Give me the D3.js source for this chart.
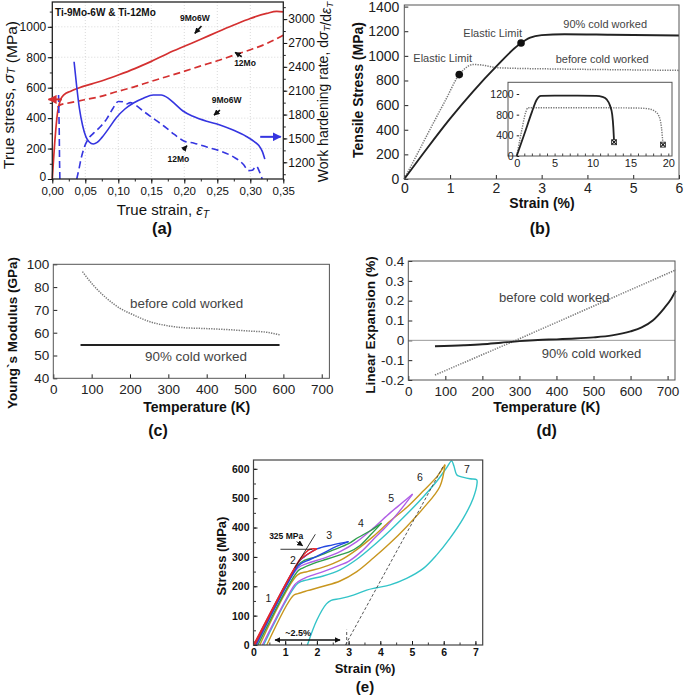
<!DOCTYPE html>
<html>
<head>
<meta charset="utf-8">
<script src="https://cdn.jsdelivr.net/npm/d3@7"></script>
<style>
  body { margin: 0; background: #fff; }
  svg { display: block; }
</style>
</head>
<body>
<script>
// ---------- (a) Ti-9Mo-6W & Ti-12Mo : true stress + work hardening rate ----------
const aStress9Mo6W = [[0,0],[0.004,256],[0.008,440],[0.012,515],[0.018,555],[0.027,575],[0.04,598],[0.06,625],[0.08,652],[0.1,683],[0.125,725],[0.15,773],[0.175,825],[0.2,872],[0.225,918],[0.25,966],[0.275,1012],[0.3,1055],[0.325,1088],[0.34,1101],[0.35,1098]];
const aStress12Mo = [[0.008,470],[0.012,487],[0.022,497],[0.047,519],[0.072,541],[0.097,573],[0.123,604],[0.148,639],[0.173,672],[0.198,705],[0.224,742],[0.249,775],[0.274,812],[0.299,848],[0.325,890],[0.35,945]];
const aHard9Mo6W = [[0.033,2464],[0.037,2150],[0.041,1880],[0.046,1660],[0.051,1520],[0.056,1455],[0.062,1430],[0.068,1450],[0.075,1510],[0.085,1620],[0.097,1760],[0.11,1870],[0.123,1945],[0.138,2005],[0.153,2045],[0.165,2045],[0.175,2010],[0.185,1940],[0.198,1845],[0.214,1775],[0.234,1715],[0.254,1670],[0.274,1605],[0.294,1525],[0.306,1460],[0.313,1410],[0.318,1340],[0.322,1240]];
const aHard12MoEarly = [[0.0095,2045],[0.0105,1600],[0.011,1200],[0.0115,990]];
const aHard12Mo = [[0.037,990],[0.04,1100],[0.044,1260],[0.049,1400],[0.055,1500],[0.063,1570],[0.072,1640],[0.082,1740],[0.092,1880],[0.1,1965],[0.107,1960],[0.113,1935],[0.118,1950],[0.125,1925],[0.14,1830],[0.155,1740],[0.17,1650],[0.185,1550],[0.2,1465],[0.215,1440],[0.235,1390],[0.255,1340],[0.275,1265],[0.29,1170],[0.297,1095],[0.303,1100],[0.309,1150],[0.314,1080],[0.318,990]];
const aStrainTicks = [0,0.05,0.1,0.15,0.2,0.25,0.3,0.35];
const aStressTicks = [0,200,400,600,800,1000];
const aHardTicks = [1200,1500,1800,2100,2400,2700,3000];
const aNotes = [
  { text: "9Mo6W", x: 0.216, y: 1055, from: [0.226,1005], to: [0.216,957] },
  { text: "12Mo", x: 0.292, y: 760, from: [0.287,803], to: [0.277,832] },
  { text: "9Mo6W", x: 0.264, y: 519, from: [0.254,453], to: [0.245,420] },
  { text: "12Mo", x: 0.191, y: 129, from: [0.198,190], to: [0.204,219] }
];
const aStressArrowLevel = 523;
const aHardArrowLevel = 1520;

// ---------- (b) tensile stress-strain ----------
const bCold = [[0,0],[0.5,250],[1,490],[1.5,710],[2,910],[2.5,1090],[2.75,1148],[3,1168],[3.5,1176],[4.5,1172],[6,1165]];
const bBefore = [[0,0],[0.3,215],[0.6,430],[0.9,640],[1.2,848],[1.35,905],[1.5,930],[1.7,925],[2,905],[2.5,898],[3,895],[4,890],[5,886],[6,882]];
const bElasticLimits = [[1.2,848],[2.55,1105]];
const bStrainTicks = [0,1,2,3,4,5,6];
const bStressTicks = [0,200,400,600,800,1000,1200,1400];
const bInsetCold = [[0,0],[1,420],[2,850],[2.6,1080],[3.2,1165],[5,1170],[8,1170],[10.5,1165],[11.3,1145],[11.9,1090],[12.3,980],[12.6,800],[12.75,550],[12.85,267]];
const bInsetBefore = [[0,0],[0.6,450],[1.2,850],[1.5,935],[3,935],[8,935],[13,932],[16,928],[17.3,915],[18.2,870],[18.8,760],[19.1,550],[19.3,220]];
const bInsetFracture = [[12.85,267],[19.3,220]];
const bInsetStrainTicks = [0,5,10,15,20];
const bInsetStressTicks = [0,400,800,1200];

// ---------- (c) Young's modulus vs temperature ----------
const cBefore = [[76,86.8],[104,80.9],[139,75.1],[174,70.7],[209,67.8],[252,64.8],[296,63.1],[339,62.2],[383,61.9],[426,61.6],[470,61.2],[513,60.7],[557,60.2],[591,59.0]];
const cCold = [[71,54.6],[590,54.6]];
const cTempTicks = [0,100,200,300,400,500,600,700];
const cModTicks = [40,50,60,70,80,90];
const cModTickText = ["40","50","60","70","80","100"];

// ---------- (d) linear expansion vs temperature ----------
const dBefore = [[72,-0.175],[290,0],[722,0.355]];
const dCold = [[72,-0.03],[150,-0.025],[200,-0.02],[250,-0.012],[300,-0.004],[350,0.002],[400,0.005],[450,0.009],[500,0.015],[550,0.025],[600,0.045],[630,0.065],[660,0.1],[690,0.16],[710,0.21],[722,0.25]];
const dTempTicks = [0,100,200,300,400,500,600,700];
const dExpTicks = [-0.2,-0.1,0,0.1,0.2,0.3,0.4];

// ---------- (e) cyclic loading ----------
const eCycles = [
  { color: "#33c4c8",
    load: [[0.32,0],[1.4,210],[1.7,222],[2.2,235],[2.73,256],[3.26,292],[3.78,338],[4.31,390],[4.83,445],[5.36,505],[5.8,560],[6.1,605],[6.25,627],[6.32,610],[6.41,580],[6.51,574],[6.83,566],[7.04,563],[7.05,549],[6.93,500],[6.62,432],[6.2,364],[5.78,307],[5.36,261],[4.83,227],[4.31,205],[3.89,195],[3.57,187],[3.15,170],[2.73,158],[2.45,152],[2.3,140],[2.0,85],[1.7,0]],
    unload: null },
  { color: "#c8961e",
    load: [[0.2,0],[1.38,238],[1.7,250],[2.2,265],[2.73,288],[3.26,325],[3.78,370],[4.31,422],[4.83,468],[5.36,525],[5.8,575],[6.04,614]],
    unload: [[6.04,614],[5.88,540],[5.36,466],[4.83,403],[4.31,347],[3.78,296],[3.26,250],[2.73,218],[2.2,200],[1.7,185],[1.4,175],[1.25,168],[0.42,0]] },
  { color: "#b05fe6",
    load: [[0.1,0],[1.4,262],[1.7,278],[2.2,295],[2.73,318],[3.26,352],[3.78,398],[4.31,450],[4.7,485],[5.02,514]],
    unload: [[5.02,514],[4.6,455],[4.2,405],[3.8,362],[3.4,318],[3.0,285],[2.73,272],[2.2,250],[1.7,232],[1.4,215],[1.3,205],[0.28,0]] },
  { color: "#2f9e4c",
    load: [[0.06,0],[1.4,272],[1.6,288],[2.0,301],[2.5,323],[3.0,345],[3.3,366],[3.7,390],[4.04,415]],
    unload: [[4.04,415],[3.7,376],[3.35,338],[3.0,316],[2.73,307],[2.3,292],[1.9,278],[1.55,262],[1.4,252],[0.14,0]] },
  { color: "#2448e0",
    load: [[0.02,0],[1.43,283],[1.6,300],[2.0,327],[2.5,341],[3.0,352]],
    unload: [[3.0,352],[2.6,335],[2.2,313],[1.8,292],[1.5,277],[1.4,268],[0.08,0]] },
  { color: "#e8262a",
    load: [[0,0],[1.45,290],[1.62,312],[1.78,326],[2.0,327]],
    unload: [[2.0,327],[1.58,300],[1.47,290],[0.04,0]] }
];
const eTangent = [[1.3,262],[1.95,377]];
const e325Line = [[0.85,326],[1.85,326]];
const eUnloadRef = [[2.9,0],[6.0,612]];
const eRefMark = [[2.94,0],[2.94,52]];
const eSpan = [0.68, 2.73];
const eSpanLevel = 17;
const eCycleLabels = [["1",0.47,159],["2",1.24,290],["3",2.39,375],["4",3.39,415],["5",4.34,500],["6",5.25,572],["7",6.73,599]];
const eStrainTicks = [0,1,2,3,4,5,6,7];
const eStressTicks = [0,100,200,300,400,500,600];

// ================== drawing ==================
const FONT = '"Liberation Sans", Arial, Helvetica, sans-serif';
const plain = d => String(d);
const svg = d3.select("body").append("svg")
  .attr("width", 685).attr("height", 696)
  .style("font-family", FONT);

const defs = svg.append("defs");
function arrowMarker(id, color, size) {
  defs.append("marker").attr("id", id)
    .attr("viewBox", "0 0 10 10").attr("refX", 9).attr("refY", 5)
    .attr("markerWidth", size).attr("markerHeight", size)
    .attr("markerUnits", "userSpaceOnUse").attr("orient", "auto-start-reverse")
    .append("path").attr("d", "M0,0 L10,5 L0,10 Z").attr("fill", color);
}
arrowMarker("ahBlack", "#111", 6);
arrowMarker("ahRed", "#d43030", 9);
arrowMarker("ahBlue", "#3535e0", 9);

function styleAxis(g, size, weight, color) {
  g.attr("font-family", FONT).attr("font-size", size).attr("font-weight", weight);
  g.select(".domain").remove();
  g.selectAll(".tick line").attr("stroke", color);
  g.selectAll(".tick text").attr("fill", color);
  return g;
}

function frame(x0, y0, x1, y1, color, sw, fill) {
  svg.append("rect").attr("x", x0).attr("y", y0)
    .attr("width", x1 - x0).attr("height", y1 - y0)
    .attr("fill", fill || "none").attr("stroke", color).attr("stroke-width", sw);
}

function plot(pts, xs, ys, style, curve) {
  return svg.append("path").datum(pts)
    .attr("d", d3.line().x(d => xs(d[0])).y(d => ys(d[1])).curve(curve || d3.curveMonotoneX))
    .attr("fill", "none")
    .attr("stroke", style.color)
    .attr("stroke-width", style.width)
    .attr("stroke-dasharray", style.dash || null)
    .attr("stroke-linejoin", "round");
}

function label(x, y, txt, size, weight, anchor, color) {
  return svg.append("text").attr("x", x).attr("y", y)
    .attr("font-size", size).attr("font-weight", weight || "normal")
    .attr("text-anchor", anchor || "middle").attr("fill", color || "#111")
    .text(txt);
}

function vlabel(x, y, size, weight, color) {
  return svg.append("text")
    .attr("transform", `translate(${x},${y}) rotate(-90)`)
    .attr("text-anchor", "middle").attr("dominant-baseline", "central")
    .attr("font-size", size).attr("font-weight", weight || "normal")
    .attr("fill", color || "#111");
}

function sub(t, s, italic) {
  t.append("tspan").attr("font-style", italic ? "italic" : null).text(s[0]);
  t.append("tspan").attr("font-style", "italic").attr("font-size", "70%").attr("dy", "0.3em").text(s[1]);
  t.append("tspan").attr("dy", "-0.3em").text("");
}

// ---------- panel (a) ----------
{
  const x = d3.scaleLinear().domain([0, 0.35]).range([52.3, 283.3]);
  const yL = d3.scaleLinear().domain([0, 1163]).range([179, 2]);
  const yR = d3.scaleLinear().domain([990, 3215]).range([179, 2]);
  const red = "#d43030", blue = "#3535e0";

  const grid = svg.append("g").attr("stroke", "#cfcfcf").attr("stroke-width", 0.8).attr("stroke-dasharray", "1,2");
  aStrainTicks.slice(1, -1).forEach(t => grid.append("line").attr("x1", x(t)).attr("x2", x(t)).attr("y1", 2).attr("y2", 179));
  aStressTicks.slice(1).forEach(t => grid.append("line").attr("x1", 52.3).attr("x2", 283.3).attr("y1", yL(t)).attr("y2", yL(t)));

  styleAxis(svg.append("g").attr("transform", "translate(0,179)")
    .call(d3.axisBottom(x).tickValues(d3.range(0, 0.351, 0.025)).tickSize(2.5).tickFormat("")), 0, "normal", "#222");
  styleAxis(svg.append("g").attr("transform", "translate(0,179)")
    .call(d3.axisBottom(x).tickValues(aStrainTicks).tickSize(4.5).tickPadding(3).tickFormat(d => d.toFixed(2).replace(".", ","))), 11.5, "normal", "#111");
  styleAxis(svg.append("g").attr("transform", "translate(52.3,0)")
    .call(d3.axisLeft(yL).tickValues(d3.range(0, 1101, 100)).tickSize(2.5).tickFormat("")), 0, "normal", "#222");
  styleAxis(svg.append("g").attr("transform", "translate(52.3,0)")
    .call(d3.axisLeft(yL).tickValues(aStressTicks).tickSize(4.5).tickPadding(1.5).tickFormat(plain)), 12, "normal", "#111")
    .selectAll(".tick text").attr("dy", d => d === 0 ? "0.1em" : "0.32em");
  styleAxis(svg.append("g").attr("transform", "translate(283.3,0)")
    .call(d3.axisRight(yR).tickValues(d3.range(1050, 3201, 150)).tickSize(2.5).tickFormat("")), 0, "normal", "#222");
  styleAxis(svg.append("g").attr("transform", "translate(283.3,0)")
    .call(d3.axisRight(yR).tickValues(aHardTicks).tickSize(4).tickPadding(1).tickFormat(plain)), 12, "normal", "#111");

  plot(aStress9Mo6W, x, yL, { color: red, width: 1.7 });
  plot(aStress12Mo, x, yL, { color: red, width: 1.7, dash: "7,4" });
  plot(aHard9Mo6W, x, yR, { color: blue, width: 1.6 });
  plot(aHard12MoEarly, x, yR, { color: blue, width: 1.6, dash: "7,4" }, d3.curveLinear);
  plot(aHard12Mo, x, yR, { color: blue, width: 1.6, dash: "7,4" });

  frame(52.3, 2, 283.3, 179, "#222", 1.3);

  // axis-direction arrows
  svg.append("line").attr("x1", x(0.0145)).attr("x2", 48.5)
    .attr("y1", yL(aStressArrowLevel)).attr("y2", yL(aStressArrowLevel))
    .attr("stroke", red).attr("stroke-width", 2).attr("marker-end", "url(#ahRed)");
  svg.append("line").attr("x1", x(0.315)).attr("x2", x(0.346))
    .attr("y1", yR(aHardArrowLevel)).attr("y2", yR(aHardArrowLevel))
    .attr("stroke", blue).attr("stroke-width", 2).attr("marker-end", "url(#ahBlue)");

  label(55, 16, "Ti-9Mo-6W & Ti-12Mo", 10, "bold", "start");
  aNotes.forEach(n => {
    label(x(n.x), yL(n.y) + 3, n.text, 8.5, "bold");
    svg.append("line").attr("x1", x(n.from[0])).attr("y1", yL(n.from[1]))
      .attr("x2", x(n.to[0])).attr("y2", yL(n.to[1]))
      .attr("stroke", "#111").attr("stroke-width", 1.6).attr("marker-end", "url(#ahBlack)");
  });

  const tl = vlabel(8, 95, 15.5);
  tl.append("tspan").text("True stress, ");
  sub(tl, ["σ", "T"], true);
  tl.append("tspan").text(" (MPa)");

  const tr = vlabel(323, 92, 14);
  tr.append("tspan").text("Work hardening rate, d");
  sub(tr, ["σ", "T"], true);
  tr.append("tspan").text("/d");
  sub(tr, ["ε", "T"], true);

  const tx = label(163, 215, "", 15);
  tx.append("tspan").text("True strain, ");
  sub(tx, ["ε", "T"], true);
  label(162, 234, "(a)", 16.5, "bold");
}

// ---------- panel (b) ----------
{
  const x = d3.scaleLinear().domain([0, 6]).range([404.3, 679]);
  const y = d3.scaleLinear().domain([0, 1413]).range([179, 5]);

  styleAxis(svg.append("g").attr("transform", "translate(0,179)")
    .call(d3.axisBottom(x).tickValues(bStrainTicks).tickSize(-4).tickPadding(4).tickFormat(plain)), 14, "normal", "#222");
  styleAxis(svg.append("g").attr("transform", "translate(404.3,0)")
    .call(d3.axisLeft(y).tickValues(bStressTicks).tickSize(-4).tickPadding(5).tickFormat(plain)), 14, "normal", "#222");

  plot(bBefore, x, y, { color: "#777", width: 1.5, dash: "1.3,1.2" });
  plot(bCold, x, y, { color: "#222", width: 1.9 });
  svg.append("g").selectAll("circle").data(bElasticLimits).join("circle")
    .attr("cx", d => x(d[0])).attr("cy", d => y(d[1])).attr("r", 3.8).attr("fill", "#111");
  frame(404.3, 5, 679, 179, "#555", 1);

  label(463.3, 37, "Elastic Limit", 11, "normal", "start", "#444");
  label(413.3, 62, "Elastic Limit", 11, "normal", "start", "#444");
  label(563.3, 28, "90% cold worked", 11, "normal", "start", "#444");
  label(555.7, 63, "before cold worked", 11, "normal", "start", "#444");

  // inset
  const ix = d3.scaleLinear().domain([0, 20]).range([516.7, 668.3]);
  const iy = d3.scaleLinear().domain([0, 1200]).range([156, 94]);
  frame(508, 82.3, 672, 156, "#555", 1, "#fff");
  styleAxis(svg.append("g").attr("transform", "translate(0,156)")
    .call(d3.axisBottom(ix).tickValues(d3.range(0, 20.1, 1)).tickSize(-2.5).tickFormat("")), 0, "normal", "#444");
  styleAxis(svg.append("g").attr("transform", "translate(0,156)")
    .call(d3.axisBottom(ix).tickValues(bInsetStrainTicks).tickSize(0).tickPadding(3).tickFormat(plain)), 11, "normal", "#222");
  styleAxis(svg.append("g").attr("transform", `translate(${ix(0)},0)`)
    .call(d3.axisLeft(iy).tickValues(bInsetStressTicks).tickSize(-2.5).tickPadding(3).tickFormat(plain)), 10.5, "normal", "#222");
  plot(bInsetBefore, ix, iy, { color: "#777", width: 1.4, dash: "1.3,1.2" });
  plot(bInsetCold, ix, iy, { color: "#222", width: 1.8 });
  const fr = svg.append("g").selectAll("g").data(bInsetFracture).join("g")
    .attr("transform", d => `translate(${ix(d[0])},${iy(d[1])})`);
  fr.append("rect").attr("x", -2.5).attr("y", -2.5).attr("width", 5).attr("height", 5)
    .attr("fill", "#fff").attr("stroke", "#222").attr("stroke-width", 0.8);
  fr.append("path").attr("d", "M-2,-2L2,2M-2,2L2,-2").attr("stroke", "#111").attr("stroke-width", 1.1);

  vlabel(358.3, 90, 14, "bold").text("Tensile Stress (MPa)");
  label(542, 208, "Strain (%)", 14, "bold");
  label(540, 234, "(b)", 16, "bold");
}

// ---------- panel (c) ----------
{
  const x = d3.scaleLinear().domain([0, 720]).range([53.3, 329.4]);
  const y = d3.scaleLinear().domain([40, 90]).range([378.3, 264.3]);
  styleAxis(svg.append("g").attr("transform", "translate(0,378.3)")
    .call(d3.axisBottom(x).tickValues(cTempTicks).tickSize(-4).tickPadding(6).tickFormat(plain)), 13.5, "normal", "#222");
  styleAxis(svg.append("g").attr("transform", "translate(53.3,0)")
    .call(d3.axisLeft(y).tickValues(cModTicks).tickSize(-4).tickPadding(4)
      .tickFormat((d, i) => cModTickText[i])), 13.5, "normal", "#222");
  plot(cBefore, x, y, { color: "#777", width: 1.5, dash: "1.3,1.2" });
  plot(cCold, x, y, { color: "#222", width: 1.9 }, d3.curveLinear);
  frame(53.3, 264.3, 329.4, 378.3, "#555", 1);
  label(130, 308, "before cold worked", 13.4, "normal", "start", "#444");
  label(145, 361, "90% cold worked", 13.4, "normal", "start", "#444");
  vlabel(12, 333, 13.5, "bold").text("Young`s Modulus (GPa)");
  label(196.7, 411.5, "Temperature (K)", 14, "bold");
  label(158, 435.5, "(c)", 16, "bold");
}

// ---------- panel (d) ----------
{
  const x = d3.scaleLinear().domain([0, 720]).range([408.3, 675]);
  const y = d3.scaleLinear().domain([-0.2, 0.4]).range([380, 261]);
  styleAxis(svg.append("g").attr("transform", "translate(0,380)")
    .call(d3.axisBottom(x).tickValues(dTempTicks).tickSize(-4).tickPadding(6).tickFormat(plain)), 13.5, "normal", "#222");
  styleAxis(svg.append("g").attr("transform", "translate(408.3,0)")
    .call(d3.axisLeft(y).tickValues(dExpTicks).tickSize(-4).tickPadding(4)
      .tickFormat(d => d === 0 ? "0" : d.toFixed(1))), 13.5, "normal", "#222");
  svg.append("line").attr("x1", 408.3).attr("x2", 675).attr("y1", y(0)).attr("y2", y(0))
    .attr("stroke", "#999").attr("stroke-width", 1);
  plot(dBefore, x, y, { color: "#777", width: 1.5, dash: "1.3,1.2" }, d3.curveLinear);
  plot(dCold, x, y, { color: "#222", width: 1.9 });
  frame(408.3, 261, 675, 380, "#555", 1);
  label(499, 301.5, "before cold worked", 13.1, "normal", "start", "#444");
  label(541.7, 357.5, "90% cold worked", 13.1, "normal", "start", "#444");
  vlabel(370, 325, 13.5, "bold").text("Linear Expansion (%)");
  label(546.7, 411.5, "Temperature (K)", 14, "bold");
  label(546.7, 435.5, "(d)", 16, "bold");
}

// ---------- panel (e) ----------
{
  const x = d3.scaleLinear().domain([0, 7.23]).range([253.5, 482.7]);
  const y = d3.scaleLinear().domain([0, 630]).range([645, 460]);
  styleAxis(svg.append("g").attr("transform", "translate(0,645)")
    .call(d3.axisBottom(x).tickValues(d3.range(0, 7.01, 0.5)).tickSize(-2.5).tickFormat("")), 0, "normal", "#333");
  styleAxis(svg.append("g").attr("transform", "translate(0,645)")
    .call(d3.axisBottom(x).tickValues(eStrainTicks).tickSize(-4).tickPadding(3.5).tickFormat(plain)), 10.5, "bold", "#111");
  styleAxis(svg.append("g").attr("transform", "translate(253.5,0)")
    .call(d3.axisLeft(y).tickValues(d3.range(0, 601, 50)).tickSize(-2.5).tickFormat("")), 0, "normal", "#333");
  styleAxis(svg.append("g").attr("transform", "translate(253.5,0)")
    .call(d3.axisLeft(y).tickValues(eStressTicks).tickSize(-4).tickPadding(4).tickFormat(plain)), 10.5, "bold", "#111");

  const cr = d3.curveCatmullRom.alpha(0.5);
  eCycles.forEach(c => {
    plot(c.load, x, y, { color: c.color, width: 1.4 }, cr);
    if (c.unload) plot(c.unload, x, y, { color: c.color, width: 1.4 }, cr);
  });

  plot(eUnloadRef, x, y, { color: "#444", width: 0.9, dash: "3,2" }, d3.curveLinear);
  plot(eRefMark, x, y, { color: "#444", width: 0.9, dash: "3,2" }, d3.curveLinear);
  plot(eTangent, x, y, { color: "#222", width: 0.9 }, d3.curveLinear);
  plot(e325Line, x, y, { color: "#222", width: 0.9 }, d3.curveLinear);

  svg.append("line").attr("x1", x(eSpan[0])).attr("x2", x(eSpan[1]))
    .attr("y1", y(eSpanLevel)).attr("y2", y(eSpanLevel))
    .attr("stroke", "#111").attr("stroke-width", 1.5)
    .attr("marker-start", "url(#ahBlack)").attr("marker-end", "url(#ahBlack)");
  label(x(1.41), y(eSpanLevel) - 4, "~2.5%", 9, "bold");

  label(x(1.03), y(371) + 3, "325 MPa", 8.5, "bold");
  svg.append("line").attr("x1", x(1.36)).attr("y1", y(352)).attr("x2", x(1.55)).attr("y2", y(338))
    .attr("stroke", "#111").attr("stroke-width", 0.9).attr("marker-end", "url(#ahBlack)");

  eCycleLabels.forEach(l => label(x(l[1]), y(l[2]) + 4, l[0], 10.5, "normal", "middle", "#222"));

  frame(253.5, 460, 482.7, 645, "#444", 1.2);
  vlabel(221, 556, 13, "bold").text("Stress (MPa)");
  label(365, 672.5, "Strain (%)", 13, "bold");
  label(365, 692, "(e)", 15, "bold");
}
</script>
</body>
</html>
